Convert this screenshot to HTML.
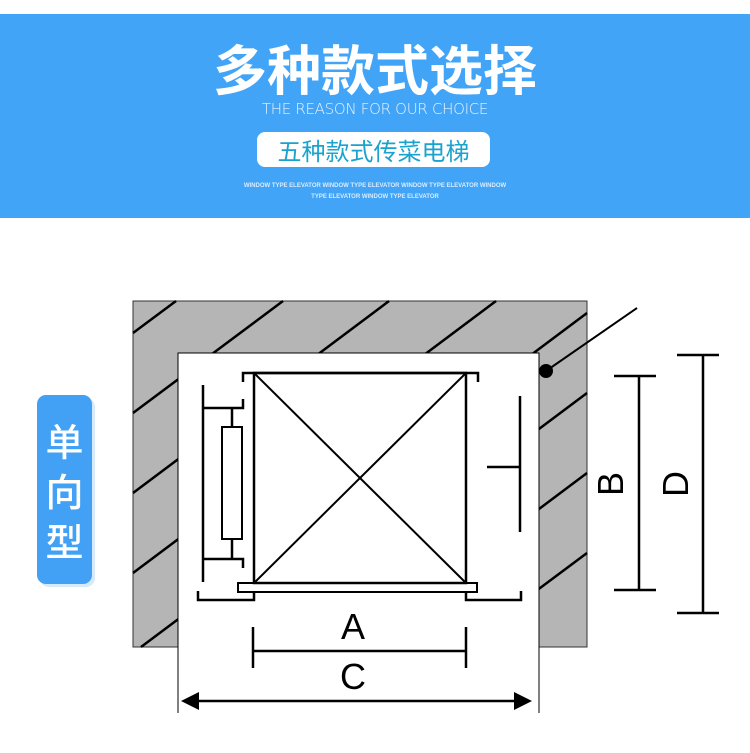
<!DOCTYPE html>
<html style="overflow:hidden;height:753px;width:750px"><head><meta charset="utf-8"><style>
html,body{margin:0;padding:0}
body{width:750px;height:753px;background:#fff;overflow:hidden;position:relative;font-family:"Liberation Sans","Noto Sans CJK SC",sans-serif}
.band{position:absolute;left:0;top:14px;width:750px;height:204px;background:#42a4f7}
.t{position:absolute;left:0;width:750px;text-align:center;color:#fff}
</style></head><body>
<div class="band"></div>
<div class="t" style="top:34px;font-size:54px;font-weight:bold;line-height:66px;font-family:'Noto Sans CJK SC',sans-serif">多种款式选择</div>
<div class="t" style="top:100px;font-size:15px;line-height:18px;color:#e8f3ff;font-family:'DejaVu Sans','Liberation Sans',sans-serif;font-weight:200;letter-spacing:-0.3px">THE REASON FOR OUR CHOICE</div>
<div style="position:absolute;left:257px;top:132px;width:233px;height:35px;background:#fff;border-radius:8px;text-align:center;font-size:24px;line-height:35px;color:#1ba3cf;font-family:'Noto Sans CJK SC',sans-serif">五种款式传菜电梯</div>
<div class="t" style="top:181px;font-size:6px;line-height:11px;color:#d8ecff;font-weight:bold">WINDOW TYPE ELEVATOR WINDOW TYPE ELEVATOR WINDOW TYPE ELEVATOR WINDOW<br>TYPE ELEVATOR WINDOW TYPE ELEVATOR</div>
<div style="position:absolute;left:37px;top:395px;width:55px;height:189px;background:#42a0f5;border-radius:9px;box-shadow:3px 3px 0 #d6eafc;color:#fff;font-size:38px;line-height:50px;text-align:center;padding-top:20px;box-sizing:border-box;font-family:'Noto Sans CJK SC',sans-serif;font-weight:500">单<br>向<br>型</div>
<svg width="750" height="753" style="position:absolute;left:0;top:0;display:block">
<rect x="133" y="301" width="454" height="346" fill="#b5b5b5" stroke="#333" stroke-width="1"/>
<g stroke="#000" stroke-width="2.5">
<line x1="133" y1="333" x2="176" y2="301"/>
<line x1="133" y1="413" x2="283" y2="301"/>
<line x1="133" y1="493" x2="389" y2="301"/>
<line x1="133" y1="573" x2="496" y2="301"/>
<line x1="141" y1="647" x2="587" y2="313"/>
<line x1="248" y1="647" x2="587" y2="393"/>
<line x1="355" y1="647" x2="587" y2="473"/>
<line x1="461" y1="647" x2="587" y2="553"/>
</g>
<rect x="178" y="353" width="361" height="380" fill="#fff"/>
<path d="M178 713 V353 H539 V713" fill="none" stroke="#000" stroke-width="1"/>
<g stroke="#000" fill="none" stroke-width="2.5">
<rect x="254" y="373" width="212" height="210"/>
<line x1="254" y1="373" x2="466" y2="583" stroke-width="2"/>
<line x1="466" y1="373" x2="254" y2="583" stroke-width="2"/>
<polyline points="243,382 243,373 478,373 478,382"/>
<rect x="238" y="583" width="239" height="9" stroke-width="2"/>
<line x1="203" y1="385" x2="203" y2="582"/>
<polyline points="203,408 243,408 243,399"/>
<polyline points="203,559 243,559 243,568"/>
<line x1="232" y1="408" x2="232" y2="427"/>
<line x1="232" y1="539" x2="232" y2="559"/>
<rect x="222" y="427" width="20" height="112" stroke-width="2"/>
<polyline points="198,591 198,600 254,600 254,592"/>
<polyline points="466,592 466,600 521,600 521,591"/>
<line x1="520" y1="396" x2="520" y2="532"/>
<line x1="487" y1="467" x2="520" y2="467"/>
<line x1="253" y1="627" x2="253" y2="668"/>
<line x1="466" y1="627" x2="466" y2="668"/>
<line x1="253" y1="651" x2="466" y2="651"/>
<line x1="190" y1="701" x2="524" y2="701"/>
<line x1="546" y1="371" x2="637" y2="308" stroke-width="2"/>
<line x1="639" y1="376" x2="639" y2="590"/>
<line x1="614" y1="376" x2="656" y2="376"/>
<line x1="614" y1="590" x2="656" y2="590"/>
<line x1="703" y1="355" x2="703" y2="613"/>
<line x1="677" y1="355" x2="719" y2="355"/>
<line x1="677" y1="613" x2="719" y2="613"/>
</g>
<polygon points="181,701 199,692 199,710" fill="#000"/>
<polygon points="532,701 514,692 514,710" fill="#000"/>
<circle cx="546" cy="371" r="7" fill="#000"/>
<g font-family="Liberation Sans, DejaVu Sans, sans-serif" font-size="36" fill="#000" text-anchor="middle">
<text x="353" y="639">A</text>
<text x="353" y="689">C</text>
<text x="0" y="0" transform="translate(623,484) rotate(-90)">B</text>
<text x="0" y="0" transform="translate(688,484) rotate(-90)">D</text>
</g>
</svg>
</body></html>
